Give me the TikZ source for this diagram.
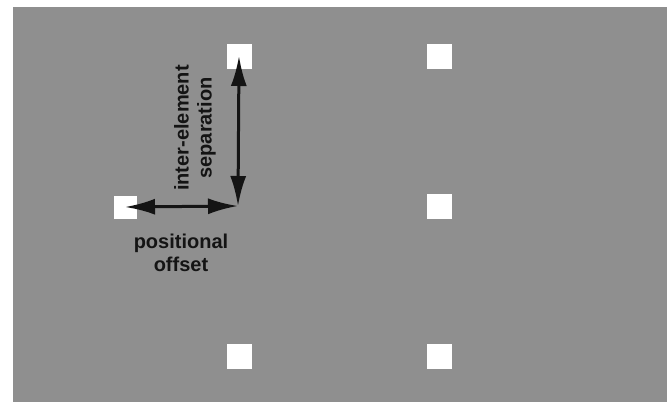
\documentclass[tikz,border=0pt]{standalone}
\usepackage{fontspec}
\setmainfont{Liberation Sans}
\usetikzlibrary{arrows.meta}
\definecolor{panel}{RGB}{143,143,143}
\definecolor{ink}{RGB}{20,20,20}
\tikzset{
  elem/.style={draw=none, fill=white, minimum size=25pt, inner sep=0pt, outer sep=0pt},
  smallelem/.style={elem, minimum size=23pt},
  dim/.style={draw=ink, line width=3pt, {Latex[length=30pt,width=16pt]}-{Latex[length=30pt,width=16pt]}},
  lbl/.style={text=ink, font=\bfseries\fontsize{20}{23}\selectfont, align=center, inner sep=0pt}
}
\begin{document}
\begin{tikzpicture}[x=1pt,y=-1pt]
\useasboundingbox (0,0) rectangle (667,402);
\fill[white] (0,0) rectangle (667,402);
\fill[panel] (13,7) rectangle (667,402);
\node[elem] (a1) at (239,56) {};
\node[elem] (b1) at (439,56) {};
\node[smallelem] (a2) at (125,207) {};
\node[elem] (b2) at (439,206) {};
\node[elem] (a3) at (239,356) {};
\node[elem] (b3) at (439,356) {};
\coordinate (corner) at (238,206);
\draw[dim] (corner) -- (a1.center);
\draw[dim] (a2.center) -- (corner);
\node[lbl, rotate=90] (sep) at (195,128) {inter-element\\separation};
\node[lbl] (off) at (181,253) {positional\\offset};
\end{tikzpicture}
\end{document}
